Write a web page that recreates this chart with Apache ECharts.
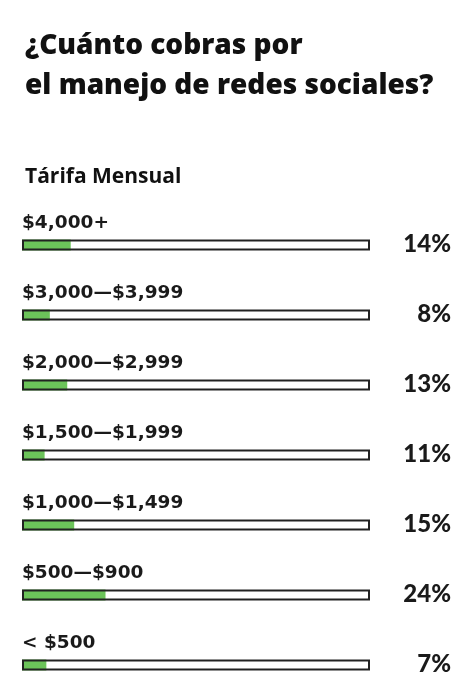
<!DOCTYPE html>
<html>
<head>
<meta charset="utf-8">
<script src="https://cdn.jsdelivr.net/npm/echarts@6/dist/echarts.min.js"></script>
<style>
html,body{margin:0;padding:0;background:#fff;}
#chart{width:473px;height:700px;}
</style>
</head>
<body>
<div id="chart"></div>
<script>
// Data
var categories = ['$4,000+', '$3,000\u2014$3,999', '$2,000\u2014$2,999', '$1,500\u2014$1,999', '$1,000\u2014$1,499', '$500\u2014$900', '< $500'];
var percentLabels = ['14%', '8%', '13%', '11%', '15%', '24%', '7%'];
// green fill length as drawn in the picture (percent of the full bar)
var barFill = [14, 8, 13, 6.5, 15, 24, 7];
var fullBar = [100, 100, 100, 100, 100, 100, 100];
var titleText = '\u00bfCu\u00e1nto cobras por\nel manejo de redes sociales?';
var subtitleText = 'T\u00e1rifa Mensual';

var chart = echarts.init(document.getElementById('chart'), null, {renderer: 'canvas'});
chart.setOption({
  backgroundColor: '#ffffff',
  animation: false,
  title: [{
    text: titleText,
    left: 20,
    top: 21,
    textStyle: {
      fontFamily: '"Open Sans", sans-serif',
      fontWeight: 800,
      fontSize: 28,
      lineHeight: 40,
      color: '#111111'
    }
  }, {
    text: subtitleText,
    left: 20,
    top: 162,
    textStyle: {
      fontFamily: '"Open Sans", sans-serif',
      fontWeight: 'bold',
      fontSize: 21,
      color: '#111111'
    }
  }],
  grid: {left: 22, top: 210, width: 348, height: 491, containLabel: false},
  xAxis: {type: 'value', min: 0, max: 100, show: false},
  yAxis: {type: 'category', data: categories, inverse: true, show: false},
  series: [{
    name: 'fill',
    type: 'bar',
    data: barFill,
    barWidth: 11,
    barGap: '-100%',
    itemStyle: {color: '#6cc35a'},
    label: {
      show: true,
      position: [0, -7],
      verticalAlign: 'bottom',
      align: 'left',
      formatter: function (p) { return categories[p.dataIndex]; },
      fontFamily: '"DejaVu Sans", sans-serif',
      fontWeight: 'bold',
      fontSize: 18.5,
      color: '#1a1a1a'
    }
  }, {
    name: 'outline',
    type: 'bar',
    data: fullBar,
    barWidth: 11,
    barGap: '-100%',
    itemStyle: {color: 'rgba(0,0,0,0)', borderColor: '#222222', borderWidth: 2},
    label: {
      show: true,
      position: ['100%', '50%'],
      offset: [81, -1],
      align: 'right',
      verticalAlign: 'middle',
      formatter: function (p) { return percentLabels[p.dataIndex]; },
      fontFamily: '"Lato Black", Lato, "Open Sans", sans-serif',
      fontWeight: 900,
      fontSize: 24,
      color: '#1a1a1a'
    }
  }]
});
</script>
</body>
</html>
